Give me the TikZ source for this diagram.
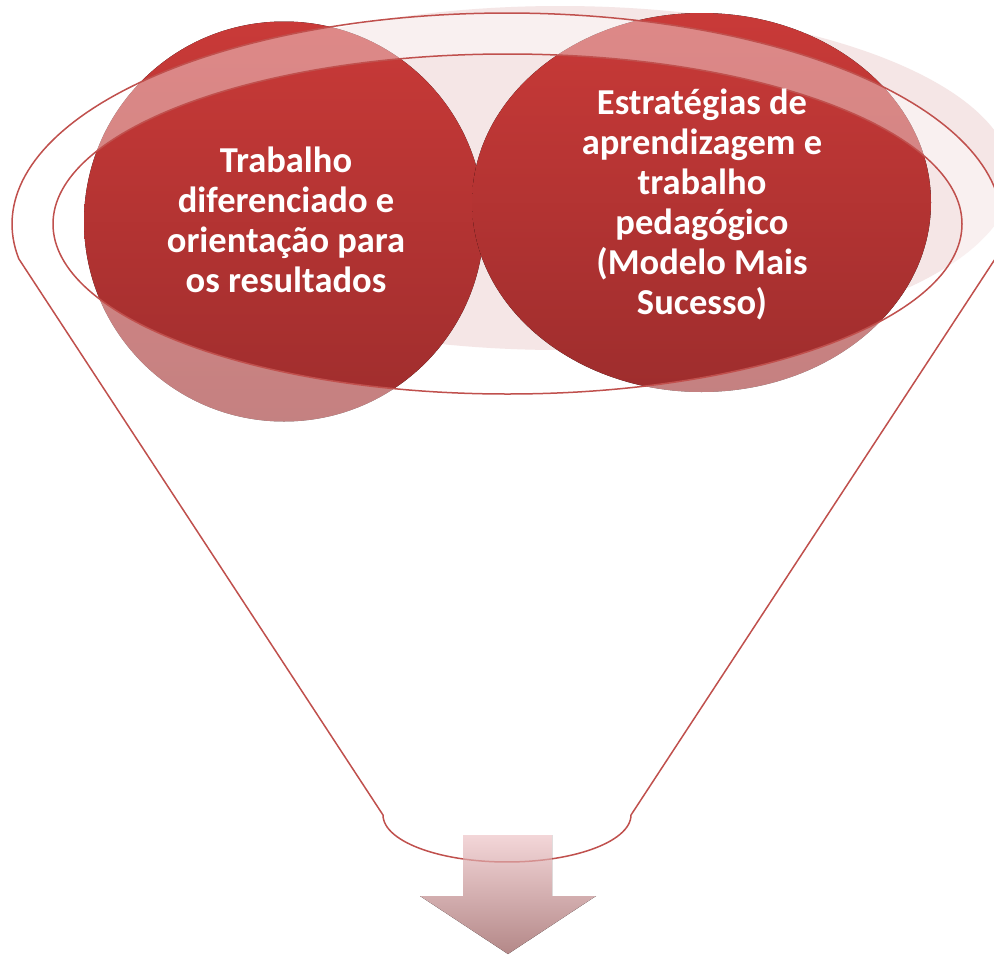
\documentclass[tikz,border=0pt]{standalone}
\usepackage{fontspec}
\setmainfont{Carlito}
\usetikzlibrary{shapes.geometric}
\definecolor{redtop}{RGB}{201,58,56}
\definecolor{redbot}{RGB}{158,45,45}
\definecolor{funline}{RGB}{192,80,77}
\definecolor{pinkbg}{RGB}{245,230,230}
\definecolor{arrtop}{RGB}{243,214,216}
\definecolor{arrbot}{RGB}{180,136,136}
\newcommand\myfunnelpath{plot[domain=170.5:369.5, samples=140, variable=\t] ({507+495*cos(\t)},{224+211*sin(\t)}) -- (631,815) -- plot[domain=0:180, samples=60, variable=\t] ({507+124*cos(\t)},{815+47*sin(\t)}) -- cycle}
\newcommand\myarrowpath{(463,835) -- (552,835) -- (552,896) -- (596,896) -- (508,954) -- (420,896) -- (463,896) -- cycle}
\begin{document}
\begin{tikzpicture}[x=1pt,y=-1pt,
  lbl/.style={font=\bfseries\fontsize{36.5}{40}\selectfont, text=white, align=center, inner sep=0pt},
  funnelline/.style={draw=funline, line width=1.5pt, line join=round},
  ballshade/.style={top color=redtop, bottom color=redbot},
  arrowshade/.style={top color=arrtop, bottom color=arrbot}]
\useasboundingbox (0,0) rectangle (994,954);
\fill[white] (0,0) rectangle (994,954);
% faint background ellipse
\fill[pinkbg] (560,178) ellipse [x radius=452, y radius=172];
% the two balls
\fill[ballshade] (284,221.5) circle [radius=200];
\fill[ballshade] (701.5,202.5) ellipse [x radius=229.5, y radius=189.5];
% translucent funnel body (outside the inner ellipse)
\fill[white, fill opacity=0.4, even odd rule] \myfunnelpath (507.5,224) ellipse [x radius=454.5, y radius=170];
% funnel outlines
\draw[funnelline] \myfunnelpath;
\draw[funnelline] (507.5,224) ellipse [x radius=454.5, y radius=170];
% down arrow
\fill[arrowshade] \myarrowpath;
\begin{scope}
  \clip \myarrowpath;
  \draw[funnelline, draw opacity=0.45] \myfunnelpath;
\end{scope}
% texts
\node[lbl] (leftlbl) at (286,220) {Trabalho\\diferenciado e\\orientação para\\os resultados};
\node[lbl] (rightlbl) at (702,204) {Estratégias de\\aprendizagem e\\trabalho\\pedagógico\\(Modelo Mais\\Sucesso)};
\end{tikzpicture}
\end{document}
